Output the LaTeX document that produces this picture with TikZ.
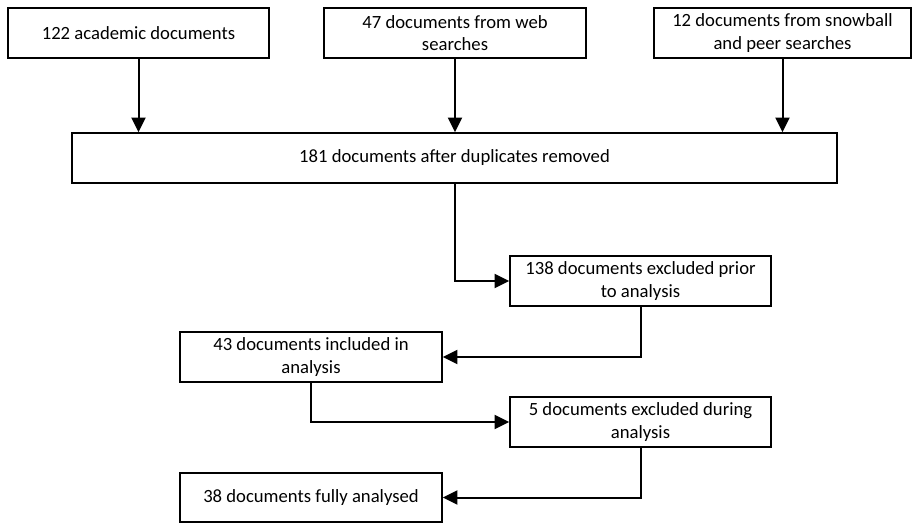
\documentclass[tikz,border=0pt]{standalone}
\usepackage{fontspec}
\setmainfont{Carlito}
\usetikzlibrary{arrows.meta}

\begin{document}
\begin{tikzpicture}[x=0.75pt,y=-0.75pt,
  >={Triangle[width=10.5pt,length=11pt]},
  docbox/.style={draw,line width=1.1pt,align=center,inner sep=2pt,
    minimum height=37.5pt,font=\fontsize{14pt}{17pt}\selectfont},
  flow/.style={->,line width=1.5pt}]
\useasboundingbox (0,0) rectangle (912,523);

\node[docbox,minimum width=195.75pt] (acad) at (138.5,33) {122 academic documents};
\node[docbox,minimum width=196.5pt] (web) at (455,33) {47 documents from web\\searches};
\node[docbox,minimum width=192.5pt] (snow) at (782.5,33) {12 documents from snowball\\and peer searches};

\node[docbox,minimum width=573.75pt] (dedup) at (454.5,158) {181 documents after duplicates removed};

\node[docbox,minimum width=195.75pt] (prior) at (640.5,281) {138 documents excluded prior\\to analysis};
\node[docbox,minimum width=196.5pt] (incl) at (311,357) {43 documents included in\\analysis};
\node[docbox,minimum width=195.75pt] (during) at (640.5,422) {5 documents excluded during\\analysis};
\node[docbox,minimum width=196.5pt,minimum height=36.75pt] (full) at (311,497.5) {38 documents fully analysed};

\draw[flow] (acad.south) -- (acad.south |- dedup.north);
\draw[flow] (web.south) -- (web.south |- dedup.north);
\draw[flow] (snow.south) -- (snow.south |- dedup.north);

\draw[flow] (dedup.south) |- (prior.west);
\draw[flow] (prior.south) |- (incl.east);
\draw[flow] (incl.south) |- (during.west);
\draw[flow] (during.south) |- (full.east);
\end{tikzpicture}
\end{document}
